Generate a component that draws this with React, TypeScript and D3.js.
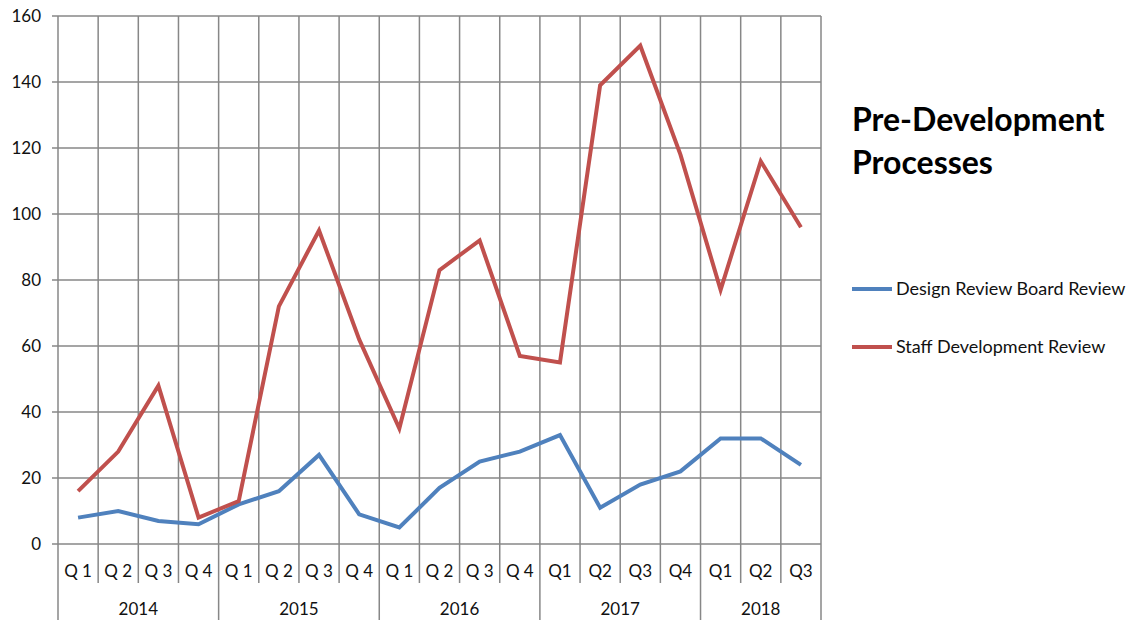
import React from "react";
import * as d3 from "d3";

const quarters = ["Q 1","Q 2","Q 3","Q 4","Q 1","Q 2","Q 3","Q 4","Q 1","Q 2","Q 3","Q 4","Q1","Q2","Q3","Q4","Q1","Q2","Q3"];
const years = ["2014","2015","2016","2017","2018"];
const yearSpans = [4, 4, 4, 4, 3];
const designReview = [8,10,7,6,12,16,27,9,5,17,25,28,33,11,18,22,32,32,24];
const staffReview = [16,28,48,8,13,72,95,62,35,83,92,57,55,139,151,118,77,116,96];
const yTicks = [0,20,40,60,80,100,120,140,160];
const seriesNames = ["Design Review Board Review","Staff Development Review"];
const colors = ["#4F81BD","#C0504D"];

const W = 1132, H = 620;
const left = 58, right = 821, top = 16, bottom = 544;
const font = "Lato, 'Open Sans', sans-serif";
const grid = "#878787";

export default function App() {
  const idx = quarters.map((_, i) => i);
  const x = d3.scaleBand<number>().domain(idx).range([left, right]).padding(0);
  const y = d3.scaleLinear().domain([0, 160]).range([bottom, top]);
  const line = d3.line<number>().x((_, i) => (x(i) as number) + x.bandwidth() / 2).y(d => y(d));
  const bw = x.bandwidth();

  const yearStarts: number[] = [];
  let acc = 0;
  yearSpans.forEach(s => { yearStarts.push(acc); acc += s; });

  return (
    <svg width={W} height={H} style={{ position: "absolute", left: 0, top: 0, background: "#fff" }}>
      {yTicks.map(t => (
        <g key={t}>
          <line x1={left - 6} x2={right} y1={y(t)} y2={y(t)} stroke={grid} strokeWidth={1.5} />
          <text x={41} y={y(t) + 6} textAnchor="end" fontFamily={font} fontSize={17} fill="#111">{t}</text>
        </g>
      ))}
      {d3.range(quarters.length + 1).map(i => {
        const xx = left + i * bw;
        const isYear = i === 0 || i === quarters.length || yearStarts.includes(i);
        return <line key={i} x1={xx} x2={xx} y1={top} y2={isYear ? H : 583} stroke={grid} strokeWidth={1.5} />;
      })}
      {quarters.map((q, i) => (
        <text key={i} x={(x(i) as number) + bw / 2} y={577} textAnchor="middle" fontFamily={font} fontSize={17} fill="#111">{q}</text>
      ))}
      {years.map((yr, i) => (
        <text key={yr} x={left + (yearStarts[i] + yearSpans[i] / 2) * bw} y={615} textAnchor="middle" fontFamily={font} fontSize={17} fill="#111">{yr}</text>
      ))}
      {[designReview, staffReview].map((s, k) => (
        <path key={k} d={line(s) || ""} fill="none" stroke={colors[k]} strokeWidth={4} strokeLinejoin="miter" />
      ))}
      <text x={852} y={131} fontFamily={font} fontSize={32} fontWeight="bold" fill="#000">Pre-Development</text>
      <text x={852} y={174} fontFamily={font} fontSize={32} fontWeight="bold" fill="#000">Processes</text>
      {seriesNames.map((n, k) => (
        <g key={n}>
          <line x1={852} x2={892} y1={289 + k * 58} y2={289 + k * 58} stroke={colors[k]} strokeWidth={4} />
          <text x={896} y={295 + k * 58} fontFamily={font} fontSize={18} fill="#111">{n}</text>
        </g>
      ))}
    </svg>
  );
}
